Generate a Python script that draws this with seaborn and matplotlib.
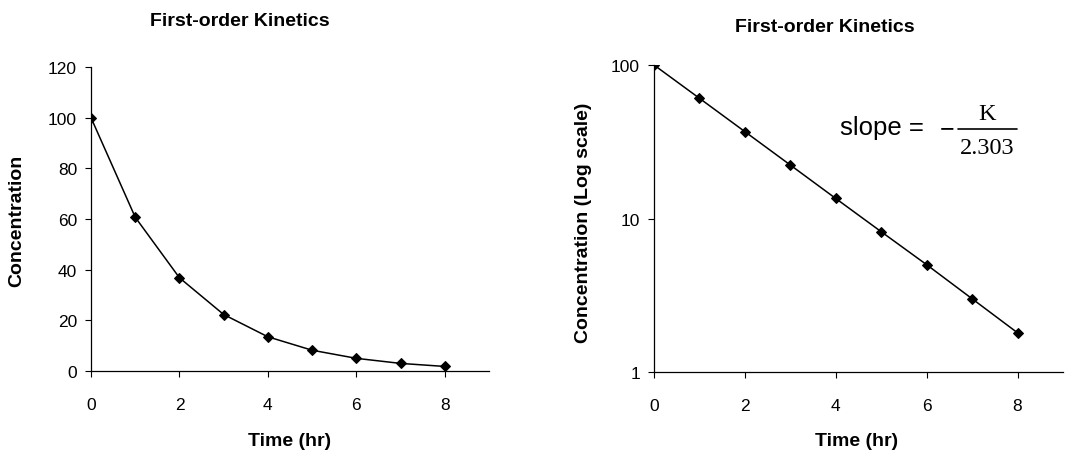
import matplotlib
matplotlib.use("Agg")
import matplotlib.pyplot as plt
from matplotlib.lines import Line2D
import seaborn as sns
import pandas as pd

# Data
time_hr = [0, 1, 2, 3, 4, 5, 6, 7, 8]
concentration = [100, 60.7, 36.8, 22.3, 13.5, 8.2, 5.0, 3.0, 1.8]
x_ticks = [0, 2, 4, 6, 8]
lin_y_ticks = [0, 20, 40, 60, 80, 100, 120]
log_y_ticks = [1, 10, 100]
log_y_labels = ["1", "10", "100"]
title_text = "First-order Kinetics"
x_label = "Time (hr)"
y_label_left = "Concentration"
y_label_right = "Concentration (Log scale)"

df = pd.DataFrame({"time": time_hr, "conc": concentration})

sns.set_style("ticks")
plt.rcParams["font.family"] = ["Liberation Sans", "DejaVu Sans"]
plt.rcParams["text.color"] = "black"

W, H = 1072, 452
fig = plt.figure(figsize=(W / 100, H / 100), dpi=100)

def box(x0, x1, ytop, ybot):
    return [x0 / W, 1 - ybot / H, (x1 - x0) / W, (ybot - ytop) / H]

def fx(px):
    return px / W

def fy(py):
    return 1 - py / H

ax1 = fig.add_axes(box(91, 489, 68, 372))
ax2 = fig.add_axes(box(654, 1063, 66, 373))

for ax in (ax1, ax2):
    sns.lineplot(data=df, x="time", y="conc", ax=ax, color="black",
                 linewidth=1.1, marker="D", markersize=5,
                 markeredgecolor="black", markerfacecolor="black")
    ax.set_xlim(0, 9)
    ax.set_xticks(x_ticks)
    ax.set_xticklabels([str(t) for t in x_ticks])
    for s in ("top", "right"):
        ax.spines[s].set_visible(False)
    for s in ("left", "bottom"):
        ax.spines[s].set_color("black")
        ax.spines[s].set_linewidth(0.9)
    ax.tick_params(axis="both", labelsize=12.5, colors="black", labelcolor="black",
                   length=4, width=0.8, pad=6)
    ax.tick_params(axis="x", pad=15)
    ax.set_xlabel("")
    ax.set_ylabel("")
    ax.grid(False)

ax1.set_ylim(0, 120)
ax1.set_yticks(lin_y_ticks)

ax2.set_yscale("log")
ax2.set_ylim(1, 100)
ax2.set_yticks(log_y_ticks)
ax2.set_yticklabels(log_y_labels)
ax2.yaxis.set_minor_locator(matplotlib.ticker.NullLocator())

lab = dict(fontsize=14, fontweight="bold", ha="center", va="center", color="black")
# titles
fig.text(fx(240), fy(22), title_text, **lab)
fig.text(fx(825), fy(27), title_text, **lab)
# x labels
fig.text(fx(290), fy(442), x_label, **lab)
fig.text(fx(857), fy(442), x_label, **lab)
# y labels
fig.text(fx(17), fy(221), y_label_left, rotation=90, **lab)
fig.text(fx(583), fy(223), y_label_right, rotation=90, **lab)

# slope annotation
fig.text(fx(840), fy(128), "slope =", fontsize=18.5, va="center", ha="left", color="black")
fig.text(fx(947), fy(129), "\u2212", fontsize=18, va="center", ha="center", color="black")
fig.text(fx(987), fy(114), "K", fontsize=17.5, va="center", ha="center",
         family="Liberation Serif", color="black")
fig.text(fx(987), fy(149), "2.303", fontsize=17.5, va="center", ha="center",
         family="Liberation Serif", color="black")
fig.add_artist(Line2D([fx(958), fx(1017)], [fy(130), fy(130)], color="black",
                      linewidth=1.2, transform=fig.transFigure))

fig.savefig("out.png", dpi=100)
